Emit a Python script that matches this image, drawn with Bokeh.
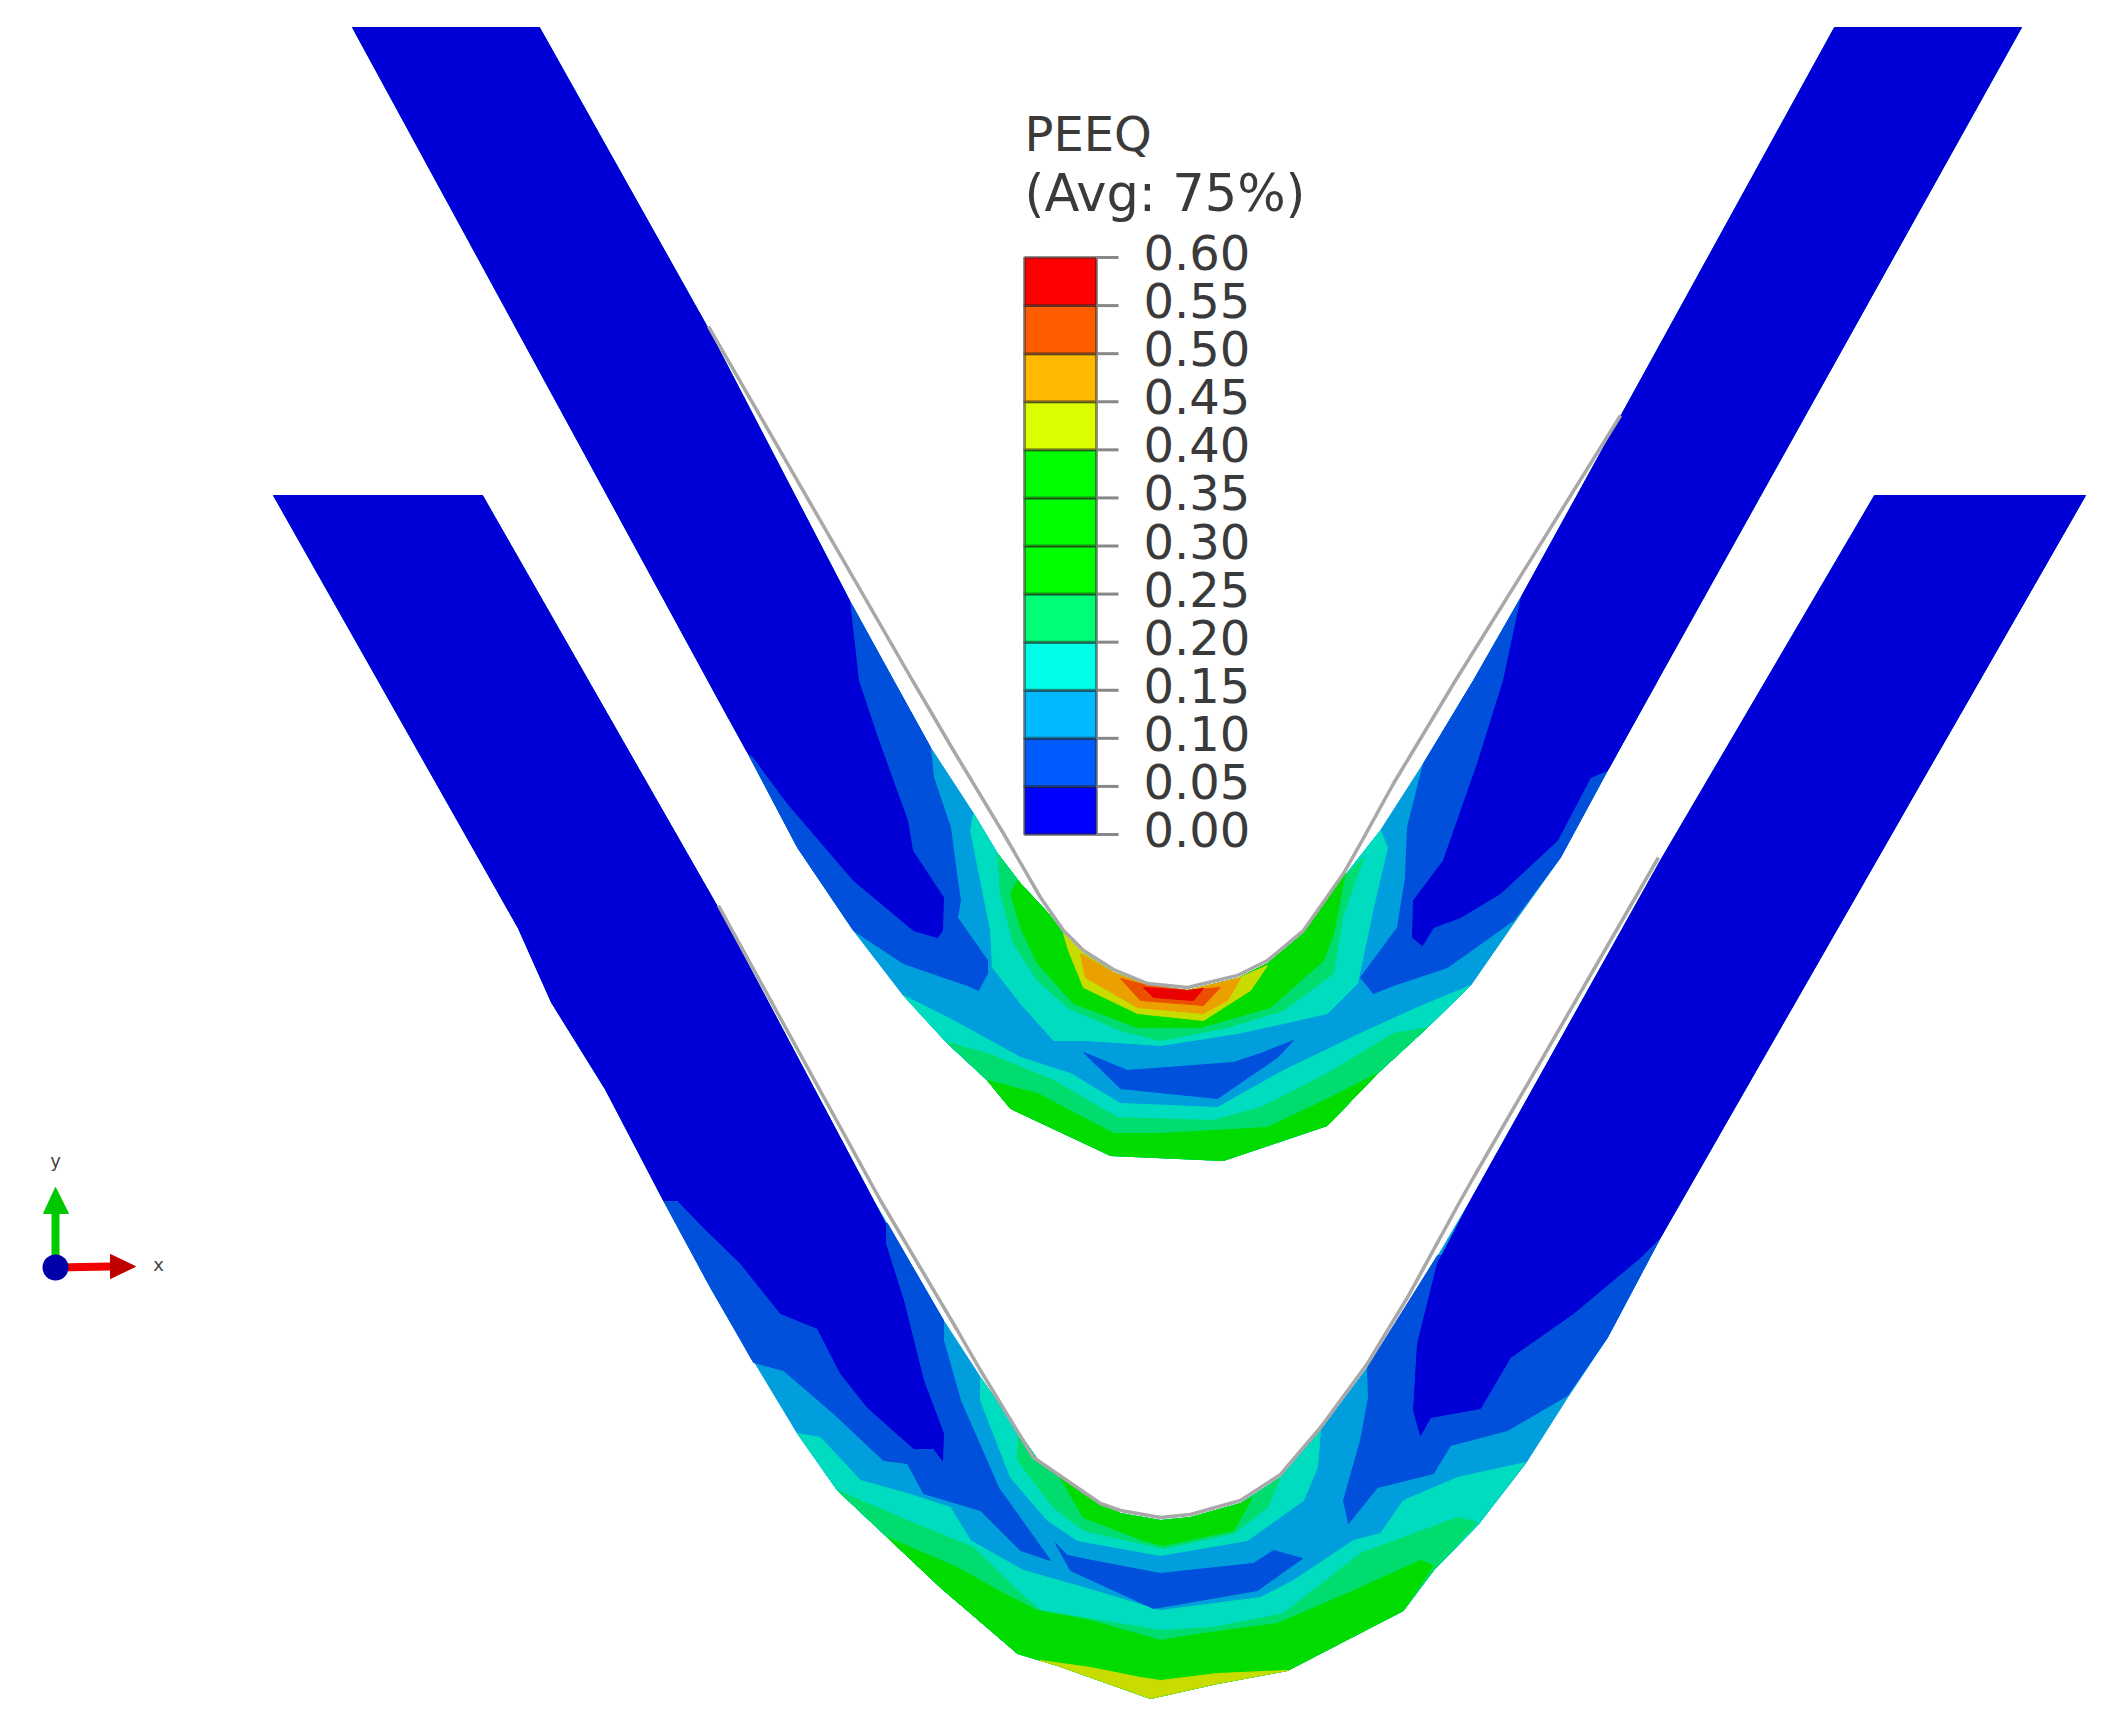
from bokeh.core.properties import value
from bokeh.embed import file_html
from bokeh.models import Range1d
from bokeh.plotting import figure
from bokeh.resources import INLINE

# contour colours as they look on the part
DARK = "#0000d6"
MEDIUM = "#0050dc"
SKY = "#009edc"
TEAL = "#00dcc0"
SEA = "#00dc6e"
GREEN = "#00dc00"
YELLOW = "#c8dc00"
ORANGE = "#eba000"
ORANGE_RED = "#eb5000"
RED = "#eb0000"

# legend
levels = [0.00, 0.05, 0.10, 0.15, 0.20, 0.25, 0.30, 0.35, 0.40, 0.45, 0.50, 0.55, 0.60]
level_labels = ["0.00", "0.05", "0.10", "0.15", "0.20", "0.25", "0.30", "0.35", "0.40", "0.45", "0.50", "0.55", "0.60"]
level_colors = ["#0000ff", "#005cff", "#00b9ff", "#00ffe8", "#00ff74", "#00ff00", "#00ff00",
                "#00ff00", "#dcff00", "#ffb900", "#ff5c00", "#ff0000"]

# upper sheet, contour regions (pixel coordinates)
top_outline = [(352, 27), (539, 27), (706, 325), (849, 600), (893, 680), (930, 747), (973, 813), (997, 853), (1020, 883),
               (1047, 912), (1063, 933), (1083, 953), (1113, 972), (1147, 985), (1187, 990), (1237, 978), (1267, 963),
               (1303, 933), (1343, 877), (1380, 830), (1423, 763), (1473, 680), (1521, 596), (1834, 27), (2021, 27),
               (1657, 680), (1607, 770), (1560, 857), (1513, 923), (1470, 985), (1427, 1027), (1377, 1073), (1327, 1125),
               (1223, 1160), (1110, 1155), (1010, 1108), (987, 1080), (947, 1043), (903, 995), (853, 930), (797, 847),
               (747, 752), (720, 703)]
top_medium_left = [(849, 600), (893, 680), (930, 747), (933, 777), (950, 827), (957, 880), (960, 900), (957, 917),
                   (987, 960), (987, 973), (978, 990), (967, 985), (903, 963), (853, 930), (797, 847), (747, 752)]
top_dark_left = [(352, 27), (539, 27), (706, 325), (849, 600), (858, 680), (877, 737), (907, 820), (912, 850), (943, 897),
                 (942, 930), (937, 937), (913, 930), (853, 880), (787, 803), (753, 757), (747, 752), (720, 703)]
top_medium_right = [(1521, 596), (1473, 680), (1423, 763), (1407, 827), (1405, 877), (1397, 927), (1360, 977), (1373, 993),
                    (1393, 985), (1447, 967), (1513, 920), (1560, 857), (1607, 770), (1657, 680)]
top_dark_right = [(1834, 27), (2021, 27), (1657, 680), (1607, 770), (1590, 777), (1557, 840), (1500, 893), (1460, 917),
                  (1433, 927), (1422, 945), (1412, 937), (1413, 900), (1443, 860), (1477, 763), (1503, 680), (1521, 596)]
top_teal_outer = [(903, 995), (947, 1043), (987, 1080), (1010, 1108), (1110, 1155), (1223, 1160), (1327, 1125),
                  (1377, 1073), (1427, 1027), (1470, 985), (1417, 1007), (1360, 1033), (1283, 1070), (1217, 1107),
                  (1120, 1103), (1070, 1073), (1020, 1057), (953, 1020)]
top_sea_outer = [(947, 1042), (987, 1080), (1010, 1108), (1110, 1155), (1223, 1160), (1327, 1125), (1377, 1073),
                 (1427, 1027), (1393, 1033), (1327, 1073), (1260, 1107), (1213, 1120), (1117, 1117), (1053, 1080),
                 (987, 1053)]
top_green_outer = [(987, 1080), (1010, 1108), (1110, 1155), (1223, 1160), (1327, 1125), (1377, 1073), (1330, 1097),
                   (1267, 1127), (1160, 1133), (1113, 1133), (1037, 1093)]
top_teal_inner = [(973, 813), (997, 853), (1020, 883), (1047, 912), (1063, 933), (1083, 953), (1113, 972), (1147, 985),
                  (1187, 990), (1237, 978), (1267, 963), (1303, 933), (1343, 877), (1380, 830), (1387, 847), (1373, 907),
                  (1357, 983), (1327, 1013), (1283, 1023), (1237, 1033), (1160, 1045), (1087, 1040), (1053, 1040),
                  (1020, 1003), (992, 967), (990, 930), (980, 880), (970, 830)]
top_sea_inner = [(997, 853), (1020, 883), (1047, 912), (1063, 933), (1083, 953), (1113, 972), (1147, 985), (1187, 990),
                 (1237, 978), (1267, 963), (1303, 933), (1343, 877), (1363, 857), (1342, 917), (1333, 973), (1283, 1010),
                 (1227, 1027), (1160, 1040), (1120, 1030), (1067, 1007), (1037, 980), (1013, 943), (1000, 893)]
top_green_inner = [(1017, 880), (1047, 912), (1063, 933), (1083, 953), (1113, 972), (1147, 985), (1187, 990), (1237, 978),
                   (1267, 963), (1303, 933), (1345, 873), (1333, 933), (1323, 960), (1270, 1007), (1200, 1027),
                   (1137, 1027), (1073, 1003), (1037, 963), (1020, 927), (1010, 893)]
top_yellow = [(1063, 933), (1083, 953), (1113, 972), (1147, 985), (1187, 990), (1237, 978), (1267, 965), (1250, 990),
              (1203, 1020), (1137, 1013), (1083, 987), (1068, 950)]
top_orange = [(1080, 953), (1113, 972), (1147, 985), (1187, 990), (1237, 978), (1240, 978), (1227, 1000), (1203, 1013),
              (1137, 1007), (1085, 977)]
top_orange_red = [(1120, 978), (1147, 985), (1187, 990), (1220, 987), (1203, 1005), (1140, 1000)]
top_red = [(1143, 987), (1187, 990), (1203, 988), (1193, 1000), (1153, 997)]
top_island = [(1083, 1052), (1120, 1088), (1217, 1098), (1277, 1057), (1293, 1040), (1260, 1053), (1233, 1062),
              (1127, 1070)]
top_tool = [(708, 326), (912, 680), (953, 750), (1003, 833), (1040, 897), (1063, 930), (1083, 950), (1113, 969), (1147, 983),
            (1187, 987), (1237, 975), (1267, 960), (1303, 930), (1343, 873), (1360, 843), (1393, 783), (1455, 680),
            (1620, 415)]

# lower sheet
bottom_outline = [(273, 495), (482, 495), (718, 908), (873, 1200), (943, 1320), (980, 1377), (1017, 1430), (1040, 1463),
                  (1090, 1497), (1120, 1513), (1160, 1520), (1190, 1517), (1240, 1503), (1280, 1477), (1320, 1430),
                  (1367, 1367), (1433, 1263), (1470, 1200), (1660, 860), (1874, 495), (2085, 495), (1660, 1237), (1607, 1337),
                  (1567, 1397), (1525, 1463), (1477, 1525), (1433, 1570), (1403, 1610), (1287, 1670), (1217, 1683),
                  (1150, 1698), (1057, 1665), (1017, 1653), (940, 1587), (887, 1537), (837, 1490), (797, 1433), (753, 1360),
                  (710, 1287), (663, 1200), (605, 1089), (551, 1002), (518, 928)]
bottom_medium_left = [(887, 1223), (943, 1320), (943, 1340), (960, 1400), (998, 1487), (1050, 1560), (1020, 1550),
                      (980, 1510), (923, 1493), (907, 1463), (883, 1460), (833, 1413), (783, 1370), (753, 1362), (710, 1287),
                      (663, 1200)]
bottom_dark_left = [(273, 495), (482, 495), (718, 908), (873, 1200), (885, 1223), (885, 1243), (903, 1300), (923, 1380),
                    (943, 1433), (942, 1460), (933, 1448), (913, 1448), (867, 1407), (840, 1373), (817, 1328), (780, 1313),
                    (740, 1263), (703, 1227), (677, 1200), (663, 1200), (605, 1089), (551, 1002), (518, 928)]
bottom_medium_right = [(1437, 1255), (1367, 1367), (1368, 1397), (1360, 1440), (1343, 1500), (1348, 1523), (1377, 1487),
                       (1433, 1473), (1450, 1445), (1507, 1430), (1567, 1395), (1607, 1337), (1660, 1237)]
bottom_dark_right = [(1874, 495), (2085, 495), (1660, 1237), (1640, 1257), (1573, 1313), (1510, 1357), (1480, 1408),
                     (1430, 1417), (1420, 1435), (1413, 1410), (1417, 1343), (1437, 1263), (1470, 1200), (1660, 860)]
bottom_teal_outer = [(797, 1433), (837, 1490), (887, 1537), (940, 1587), (1017, 1653), (1057, 1665), (1150, 1698),
                     (1217, 1683), (1287, 1670), (1403, 1610), (1433, 1570), (1477, 1525), (1525, 1462), (1457, 1477),
                     (1403, 1500), (1380, 1533), (1353, 1540), (1293, 1580), (1260, 1597), (1160, 1610), (1083, 1587),
                     (1023, 1570), (970, 1540), (950, 1507), (907, 1493), (860, 1480), (820, 1437)]
bottom_sea_outer = [(837, 1490), (887, 1537), (940, 1587), (1017, 1653), (1057, 1665), (1150, 1698), (1217, 1683),
                    (1287, 1670), (1403, 1610), (1433, 1570), (1477, 1522), (1457, 1517), (1360, 1553), (1283, 1613),
                    (1213, 1627), (1160, 1630), (1040, 1610), (1017, 1590), (973, 1547), (907, 1520)]
bottom_green_outer = [(887, 1537), (940, 1587), (1017, 1653), (1057, 1665), (1150, 1698), (1217, 1683), (1287, 1670),
                      (1403, 1610), (1433, 1565), (1420, 1560), (1347, 1593), (1277, 1623), (1203, 1633), (1160, 1640),
                      (1090, 1620), (1037, 1610), (1003, 1593), (957, 1567), (917, 1550)]
bottom_yellow = [(1040, 1660), (1057, 1665), (1150, 1698), (1217, 1683), (1287, 1670), (1217, 1673), (1160, 1680),
                 (1140, 1677), (1090, 1667)]
bottom_teal_inner = [(980, 1377), (1017, 1430), (1040, 1463), (1090, 1497), (1120, 1513), (1160, 1520), (1190, 1517),
                     (1240, 1503), (1280, 1477), (1320, 1430), (1317, 1467), (1303, 1500), (1247, 1540), (1160, 1555),
                     (1077, 1540), (1047, 1520), (1010, 1477), (980, 1400)]
bottom_sea_inner = [(1018, 1433), (1040, 1463), (1090, 1497), (1120, 1513), (1160, 1520), (1190, 1517), (1240, 1503),
                    (1280, 1477), (1267, 1507), (1233, 1533), (1163, 1548), (1083, 1530), (1053, 1507), (1017, 1460)]
bottom_green_inner = [(1060, 1478), (1090, 1497), (1120, 1513), (1160, 1520), (1190, 1517), (1240, 1503), (1252, 1497),
                      (1233, 1530), (1163, 1545), (1143, 1540), (1083, 1517)]
bottom_island = [(1055, 1543), (1070, 1570), (1153, 1608), (1257, 1590), (1302, 1558), (1273, 1550), (1253, 1563),
                 (1160, 1573), (1107, 1563), (1067, 1555)]
bottom_tool = [(718, 905), (880, 1200), (957, 1330), (980, 1370), (1033, 1457), (1100, 1503), (1120, 1510), (1160, 1517),
               (1190, 1514), (1240, 1500), (1280, 1474), (1320, 1427), (1367, 1363), (1407, 1297), (1460, 1200), (1473, 1177),
               (1658, 857)]

# triad in the lower left
triad_origin = (55, 1267)
triad_y_base = (55, 1213)
triad_x_base = (110, 1266)
triad_y_head = [(43, 1213), (55, 1187), (68, 1213)]
triad_x_head = [(110, 1254), (135, 1266), (110, 1278)]

p = figure(width=2090, height=1704, x_range=Range1d(0, 2090), y_range=Range1d(1704, 0),
           x_axis_type=None, y_axis_type=None, output_backend="svg", toolbar_location=None,
           min_border=0, outline_line_color=None, background_fill_color="white")
p.grid.visible = False


def region(points, color):
    p.patch([q[0] for q in points], [q[1] for q in points], fill_color=color, line_color=color, line_width=1)


def tool(points):
    p.line([q[0] for q in points], [q[1] for q in points], line_color="#a8a8a8", line_width=3.5)


# upper sheet, back to front
region(top_outline, SKY)
region(top_medium_left, MEDIUM)
region(top_dark_left, DARK)
region(top_medium_right, MEDIUM)
region(top_dark_right, DARK)
region(top_teal_outer, TEAL)
region(top_sea_outer, SEA)
region(top_green_outer, GREEN)
region(top_teal_inner, TEAL)
region(top_sea_inner, SEA)
region(top_green_inner, GREEN)
region(top_yellow, YELLOW)
region(top_orange, ORANGE)
region(top_orange_red, ORANGE_RED)
region(top_red, RED)
region(top_island, MEDIUM)
tool(top_tool)

# lower sheet
region(bottom_outline, SKY)
region(bottom_medium_left, MEDIUM)
region(bottom_dark_left, DARK)
region(bottom_medium_right, MEDIUM)
region(bottom_dark_right, DARK)
region(bottom_teal_outer, TEAL)
region(bottom_sea_outer, SEA)
region(bottom_green_outer, GREEN)
region(bottom_yellow, YELLOW)
region(bottom_teal_inner, TEAL)
region(bottom_sea_inner, SEA)
region(bottom_green_inner, GREEN)
region(bottom_island, MEDIUM)
tool(bottom_tool)

# legend uses its own scale: 0.00 sits at pixel row 834 and 0.60 at row 257
per_px = 0.60 / (834 - 257)
p.extra_y_ranges["legend"] = Range1d((834 - 1704) * per_px, 834 * per_px)

p.quad(left=1024, right=1096, bottom=levels[:-1], top=levels[1:], fill_color=level_colors,
       line_color="#222222", line_alpha=0.5, line_width=3, y_range_name="legend")
p.segment(x0=1096, x1=1118, y0=levels, y1=levels, line_color="#888888", line_width=3, y_range_name="legend")
p.text(x=1143, y=levels, text=level_labels, text_font=value("DejaVu Sans"), text_font_size="48px",
       text_color="#3a3a3a", text_baseline="middle", text_align="left", y_offset=-5, y_range_name="legend")
p.text(x=1024, y=133, text=["PEEQ"], text_font=value("DejaVu Sans"), text_font_size="48px",
       text_color="#3a3a3a", text_baseline="alphabetic")
p.text(x=1024, y=193, text=["(Avg: 75%)"], text_font=value("DejaVu Sans"), text_font_size="51px",
       text_color="#3a3a3a", text_baseline="alphabetic")

# triad
p.line([triad_origin[0], triad_y_base[0]], [triad_origin[1], triad_y_base[1]], line_color="#00cc00", line_width=8)
p.line([triad_origin[0], triad_x_base[0]], [triad_origin[1], triad_x_base[1]], line_color="#f00000", line_width=8)
region(triad_y_head, "#00c800")
region(triad_x_head, "#c00000")
p.scatter([triad_origin[0]], [triad_origin[1]], size=26, marker="circle", fill_color="#0000a8", line_color=None)
p.text(x=[55], y=[1160], text=["y"], text_font=value("DejaVu Sans"), text_font_size="18px", text_color="#444444",
       text_align="center", text_baseline="middle")
p.text(x=[158], y=[1264], text=["x"], text_font=value("DejaVu Sans"), text_font_size="18px", text_color="#444444",
       text_align="center", text_baseline="middle")

open("out.html", "w").write(file_html(p, INLINE))
